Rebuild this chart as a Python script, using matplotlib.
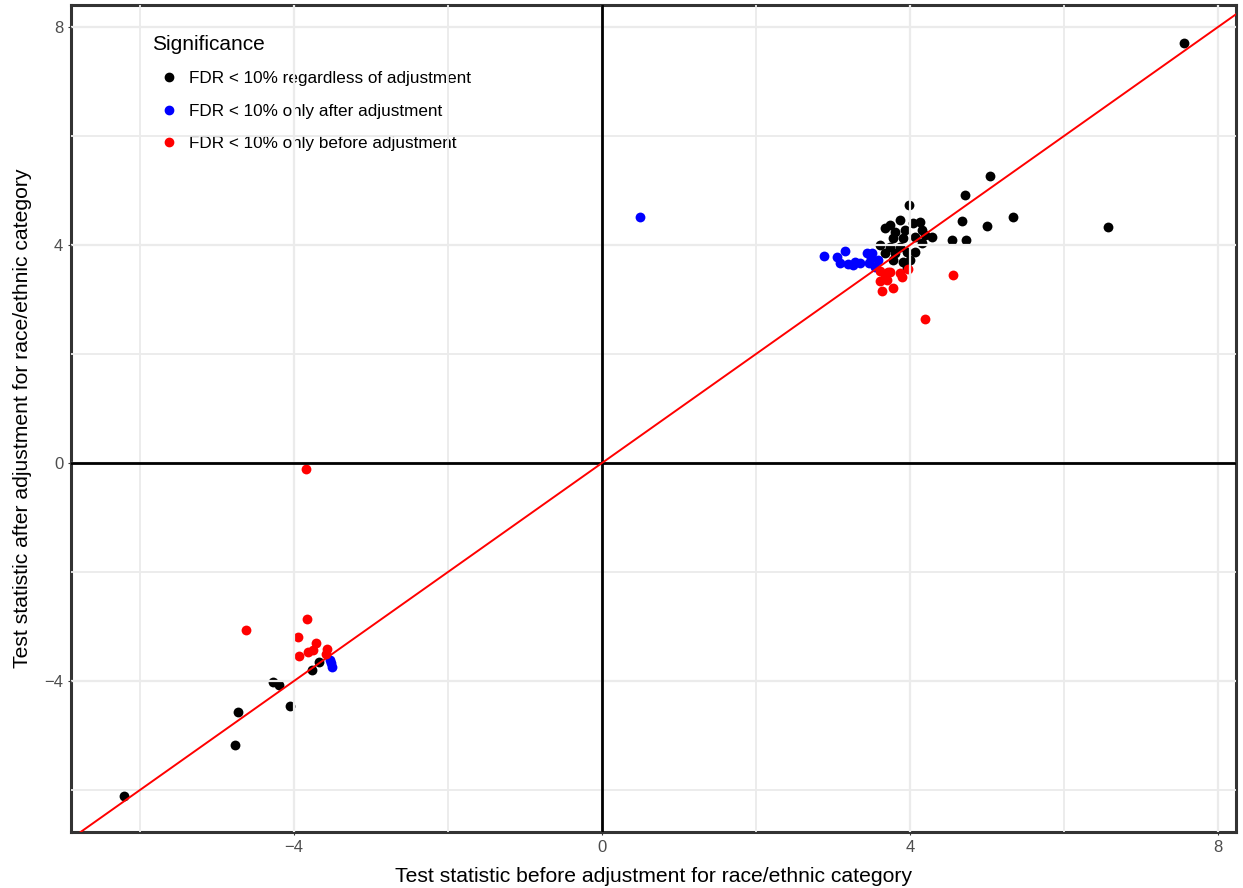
import numpy as np
import matplotlib.pyplot as plt
from matplotlib.lines import Line2D

plt.rcParams['font.family'] = ['Liberation Sans', 'DejaVu Sans']

# test statistics (before, after) per significance group
black_x = [7.56, 5.04, 4.71, 5.34, 6.57, 5.00, 4.68, 4.55, 4.73,
           3.99, 3.87, 3.74, 4.04, 4.13, 3.68, 3.81, 3.94, 4.16, 4.29,
           3.78, 3.91, 4.06, 4.19, 3.61, 3.74, 3.87, 4.16, 3.68, 3.81,
           3.96, 4.06, 3.91, 4.00, 3.78, 3.96,
           -6.21, -4.77, -4.73, -4.05, -4.27, -4.19, -3.77, -3.68]
black_y = [7.71, 5.27, 4.92, 4.51, 4.33, 4.35, 4.44, 4.09, 4.09,
           4.73, 4.46, 4.37, 4.40, 4.42, 4.31, 4.24, 4.28, 4.28, 4.15,
           4.13, 4.13, 4.15, 4.18, 4.00, 3.96, 3.96, 4.04, 3.85, 3.85,
           3.87, 3.87, 3.69, 3.72, 3.72, 3.58,
           -6.11, -5.17, -4.57, -4.46, -4.02, -4.07, -3.80, -3.65]

blue_x = [0.49, 2.88, 3.05, 3.16, 3.09, 3.19, 3.26, 3.35, 3.44, 3.51,
          3.47, 3.55, 3.58, 3.29, 3.49,
          -3.52, -3.51, -3.53]
blue_y = [4.51, 3.80, 3.78, 3.89, 3.67, 3.65, 3.63, 3.67, 3.85, 3.85,
          3.67, 3.60, 3.72, 3.69, 3.76,
          -3.67, -3.74, -3.61]

red_x = [-3.84, -4.62, -3.83, -3.95, -3.71, -3.82, -3.75, -3.94, -3.57, -3.58,
         4.19, 4.56, 3.61, 3.71, 3.87, 3.97, 3.61, 3.70, 3.90, 3.64,
         3.78, 3.74, 3.68]
red_y = [-0.11, -3.06, -2.86, -3.19, -3.30, -3.47, -3.43, -3.54, -3.41, -3.50,
         2.64, 3.45, 3.52, 3.50, 3.49, 3.56, 3.34, 3.36, 3.41, 3.16,
         3.21, 3.50, 3.43]

labels = ['FDR < 10% regardless of adjustment',
          'FDR < 10% only after adjustment',
          'FDR < 10% only before adjustment']

fig = plt.figure(figsize=(12.43, 8.88), dpi=100)
ax = fig.add_axes([71 / 1243, 1 - 832 / 888, (1236 - 71) / 1243, (832 - 5) / 888])

ax.scatter(black_x, black_y, s=50, color='black', linewidths=0, zorder=1)
ax.scatter(blue_x, blue_y, s=50, color='#0000ff', linewidths=0, zorder=1)
ax.scatter(red_x, red_y, s=50, color='#ff0000', linewidths=0, zorder=1)

ax.axhline(0, color='black', linewidth=2.0, zorder=3)
ax.axvline(0, color='black', linewidth=2.0, zorder=3)
ax.axline((0, 0), slope=1, color='#ff0000', linewidth=1.4, zorder=4)

ax.set_xlim(-6.896, 8.234)
ax.set_ylim(-6.771, 8.404)
ax.set_xticks([-4, 0, 4, 8])
ax.set_yticks([-4, 0, 4, 8])
ax.set_xticks([-6, -2, 2, 6], minor=True)
ax.set_yticks([-6, -2, 2, 6], minor=True)
ax.set_axisbelow(False)
ax.grid(True, which='major', color='#ebebeb', linewidth=1.6)
ax.grid(True, which='minor', color='#ebebeb', linewidth=1.3)
ax.tick_params(which='both', length=2, color='#333333', labelsize=12, labelcolor='#4d4d4d')
ax.tick_params(which='minor', length=0)
for s in ax.spines.values():
    s.set_color('#333333')
    s.set_linewidth(2.2)

ax.set_xlabel('Test statistic before adjustment for race/ethnic category', fontsize=15.2, labelpad=9)
ax.set_ylabel('Test statistic after adjustment for race/ethnic category', fontsize=15.2, labelpad=9)

handles = [Line2D([], [], marker='o', linestyle='', color=c, markersize=6)
           for c in ['black', '#0000ff', '#ff0000']]
leg = ax.legend(handles, labels, title='Significance', loc='upper left',
                bbox_to_anchor=(137 / 1243, 1 - 20 / 888), bbox_transform=fig.transFigure,
                frameon=False, fontsize=12.3, title_fontsize=15, labelspacing=1.0,
                handletextpad=0.15, alignment='left')
leg.set_zorder(2)

fig.savefig('out.png', dpi=100)
